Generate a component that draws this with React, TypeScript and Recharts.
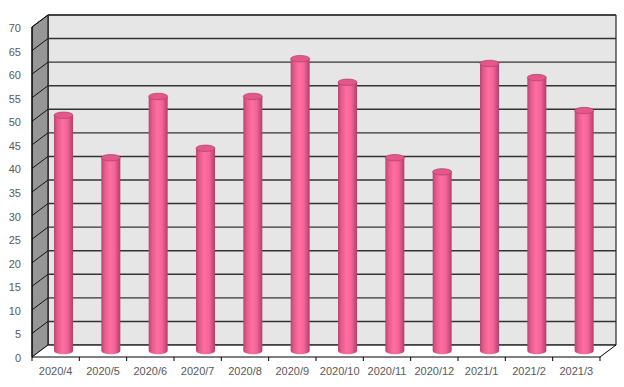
import React from 'react';
import { BarChart, Bar, XAxis, YAxis, ReferenceArea } from 'recharts';

const MONTHS = [
  '2020/4', '2020/5', '2020/6', '2020/7', '2020/8', '2020/9',
  '2020/10', '2020/11', '2020/12', '2021/1', '2021/2', '2021/3'
];
const VALUES = [50, 41, 54, 43, 54, 62, 57, 41, 38, 61, 58, 51];
const Y_TICKS = [0, 5, 10, 15, 20, 25, 30, 35, 40, 45, 50, 55, 60, 65, 70];
const Y_MAX = 70;

// half of the 3D depth offset (plot area is the middle plane)
const DX = 8;
const DY = 6;
const FONT = '"Liberation Sans", Arial, sans-serif';
const LABEL_COLOR = '#595959';

const data = MONTHS.map((m, i) => ({ month: m, value: VALUES[i] }));

const Walls = (props: any) => {
  const { x, y, width, height } = props;
  const bottom = y + height;
  const bx = x + DX;
  const fx = x - DX;
  const valToY = (v: number) => y + height * (1 - v / Y_MAX);
  const n = MONTHS.length;
  return (
    <g>
      <polygon
        points={`${bx},${y - DY} ${bx + width},${y - DY} ${bx + width},${bottom - DY} ${bx},${bottom - DY}`}
        fill="#e6e6e6"
        stroke="#000"
        strokeWidth={1}
      />
      <polygon
        points={`${fx},${y + DY} ${bx},${y - DY} ${bx},${bottom - DY} ${fx},${bottom + DY}`}
        fill="#969696"
        stroke="#000"
        strokeWidth={1}
      />
      <polygon
        points={`${fx},${bottom + DY} ${fx + width},${bottom + DY} ${bx + width},${bottom - DY} ${bx},${bottom - DY}`}
        fill="#fff"
      />
      {Y_TICKS.map((v) => {
        const ty = valToY(v);
        return (
          <g key={v}>
            <line x1={bx} y1={ty - DY} x2={bx + width} y2={ty - DY} stroke="#333" strokeWidth={1.4} />
            <line x1={fx} y1={ty + DY} x2={bx} y2={ty - DY} stroke="#111" strokeWidth={1} />
          </g>
        );
      })}
      <line x1={fx} y1={bottom + DY} x2={fx + width} y2={bottom + DY} stroke="#000" strokeWidth={1} />
      <line x1={fx + width} y1={bottom + DY} x2={bx + width} y2={bottom - DY} stroke="#000" strokeWidth={1} />
      <line x1={fx} y1={y + DY} x2={fx} y2={bottom + DY + 4} stroke="#000" strokeWidth={1} />
      {MONTHS.map((m, i) => {
        const tx = fx + ((i + 1) * width) / n;
        return <line key={m} x1={tx} y1={bottom + DY} x2={tx} y2={bottom + DY + 4} stroke="#000" strokeWidth={1} />;
      })}
    </g>
  );
};

const Cylinder = (props: any) => {
  const { x, y, width, height } = props;
  if (height == null || width == null) return null;
  const rx = width / 2;
  const ry = 3.2;
  const cx = x + rx;
  const b = y + height;
  return (
    <g>
      <path
        d={`M${x},${y} L${x},${b} A${rx},${ry} 0 0 0 ${x + width},${b} L${x + width},${y} Z`}
        fill="url(#cylBody)"
      />
      <ellipse cx={cx} cy={y} rx={rx} ry={ry} fill="#e2588b" stroke="#b9426f" strokeWidth={0.8} />
    </g>
  );
};

const YTick = (props: any) => {
  const { y, payload } = props;
  return (
    <text x={21} y={y + DY + 1} textAnchor="end" dominantBaseline="central" fill={LABEL_COLOR} fontSize={11} fontFamily={FONT}>
      {payload.value}
    </text>
  );
};

const XTick = (props: any) => {
  const { x, y, payload } = props;
  return (
    <text x={x - DX} y={y} dy={12} textAnchor="middle" dominantBaseline="central" fill={LABEL_COLOR} fontSize={11} fontFamily={FONT}>
      {payload.value}
    </text>
  );
};

const App: React.FC = () => {
  return (
    <div style={{ position: 'absolute', left: 0, top: 0, background: '#fff' }}>
      <BarChart width={624} height={387} data={data} margin={{ top: 21, right: 16, left: 10, bottom: 6 }}>
        <defs>
          <linearGradient id="cylBody" x1="0" y1="0" x2="1" y2="0">
            <stop offset="0%" stopColor="#b8456f" />
            <stop offset="18%" stopColor="#e65a8d" />
            <stop offset="45%" stopColor="#ff6f9f" />
            <stop offset="70%" stopColor="#f5639a" />
            <stop offset="100%" stopColor="#b03f6a" />
          </linearGradient>
        </defs>
        <XAxis dataKey="month" axisLine={false} tickLine={false} height={30} tick={<XTick />} interval={0} />
        <YAxis domain={[0, Y_MAX]} ticks={Y_TICKS} axisLine={false} tickLine={false} width={30} tick={<YTick />} interval={0} />
        <ReferenceArea y1={0} y2={Y_MAX} shape={<Walls />} />
        <Bar dataKey="value" barSize={19} shape={<Cylinder />} isAnimationActive={false} />
      </BarChart>
    </div>
  );
};

export default App;
